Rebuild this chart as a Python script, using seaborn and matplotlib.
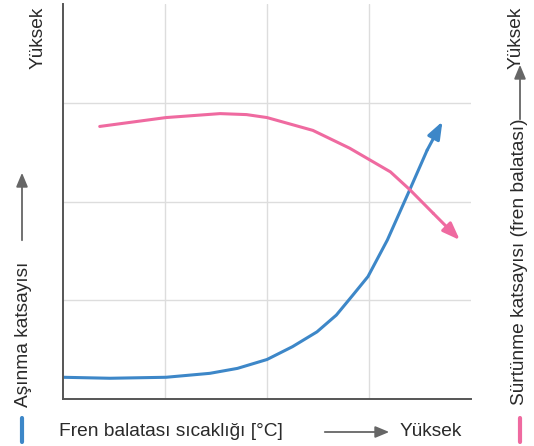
import numpy as np
import pandas as pd
import matplotlib
matplotlib.use("Agg")
import matplotlib.pyplot as plt
import seaborn as sns

# curve points (x: temperature, y: coefficient, in 0..4 grid units)
wear_x = [0.0, 0.46, 1.01, 1.44, 1.71, 2.0, 2.25, 2.49, 2.68, 2.84, 2.99, 3.18, 3.40, 3.57, 3.72]
wear_y = [0.22, 0.21, 0.22, 0.26, 0.31, 0.40, 0.53, 0.68, 0.85, 1.05, 1.24, 1.61, 2.12, 2.52, 2.81]
fric_x = [0.36, 1.01, 1.54, 1.80, 2.0, 2.45, 2.81, 3.21, 3.40, 3.63, 3.89]
fric_y = [2.76, 2.85, 2.89, 2.88, 2.85, 2.72, 2.54, 2.30, 2.12, 1.88, 1.61]

x_label = "Fren balatası sıcaklığı [°C]"
left_label = "Aşınma katsayısı"
right_label = "Sürtünme katsayısı (fren balatası)"
high = "Yüksek"

blue = "#3d87c8"
pink = "#ef6aa0"
grey = "#555555"

sns.set_style("white")
plt.rcParams["font.family"] = ["Liberation Sans", "DejaVu Sans"]

fig = plt.figure(figsize=(5.34, 4.46), dpi=100)
ax = fig.add_axes([63 / 534, 47 / 446, 408 / 534, 395 / 446])

wear = pd.DataFrame({"t": wear_x, "v": wear_y})
fric = pd.DataFrame({"t": fric_x, "v": fric_y})
sns.lineplot(data=wear[:-1], x="t", y="v", color=blue, lw=2.2, sort=False, ax=ax)
sns.lineplot(data=fric[:-1], x="t", y="v", color=pink, lw=2.2, sort=False, ax=ax)

# last segment drawn with an arrow head
for df, c in [(wear, blue), (fric, pink)]:
    ax.annotate("", xy=(df.t.iloc[-1], df.v.iloc[-1]), xytext=(df.t.iloc[-2], df.v.iloc[-2]),
                arrowprops=dict(arrowstyle="-|>,head_length=0.8,head_width=0.3", color=c, lw=2.2,
                                mutation_scale=13, shrinkA=0, shrinkB=0))

ax.set_xlim(0, 4)
ax.set_ylim(0, 4)
ax.set_xticks([1, 2, 3])
ax.set_yticks([1, 2, 3])
ax.set_xticklabels([])
ax.set_yticklabels([])
ax.tick_params(length=0)
ax.grid(True, color="#dddddd", lw=1)
ax.set_xlabel("")
ax.set_ylabel("")
for s in ["top", "right"]:
    ax.spines[s].set_visible(False)
for s in ["left", "bottom"]:
    ax.spines[s].set_color(grey)
    ax.spines[s].set_linewidth(1.4)

fs = 13.8
tc = "#2a2a2a"
ac = "#666666"
arr = "-|>,head_length=0.6,head_width=0.25"


def fx(px):
    return px / 534


def fy(py):
    return 1 - py / 446


# left side
fig.text(fx(38), fy(38), high, rotation=90, ha="center", va="center", fontsize=fs, color=tc)
fig.text(fx(24), fy(334), left_label, rotation=90, ha="center", va="center", fontsize=fs, color=tc)
fig.add_artist(matplotlib.patches.FancyArrowPatch((fx(22), fy(243)), (fx(22), fy(170)),
               transform=fig.transFigure, arrowstyle=arr, mutation_scale=14, color=ac, lw=1.3))
fig.add_artist(matplotlib.lines.Line2D([fx(22), fx(22)], [fy(418), fy(442)],
               transform=fig.transFigure, color=blue, lw=3))

# bottom
fig.text(fx(59), fy(431), x_label, ha="left", va="center", fontsize=fs, color=tc)
fig.add_artist(matplotlib.patches.FancyArrowPatch((fx(322), fy(432)), (fx(392), fy(432)),
               transform=fig.transFigure, arrowstyle=arr, mutation_scale=14, color=ac, lw=1.3))
fig.text(fx(462), fy(431), high, ha="right", va="center", fontsize=fs, color=tc)

# right side
fig.text(fx(520), fy(262), right_label, rotation=90, ha="center", va="center", fontsize=fs, color=tc)
fig.add_artist(matplotlib.patches.FancyArrowPatch((fx(520), fy(122)), (fx(520), fy(62)),
               transform=fig.transFigure, arrowstyle=arr, mutation_scale=14, color=ac, lw=1.3))
fig.text(fx(516), fy(38), high, rotation=90, ha="center", va="center", fontsize=fs, color=tc)
fig.add_artist(matplotlib.lines.Line2D([fx(520), fx(520)], [fy(418), fy(442)],
               transform=fig.transFigure, color=pink, lw=3))

fig.savefig("out.png", dpi=100)
